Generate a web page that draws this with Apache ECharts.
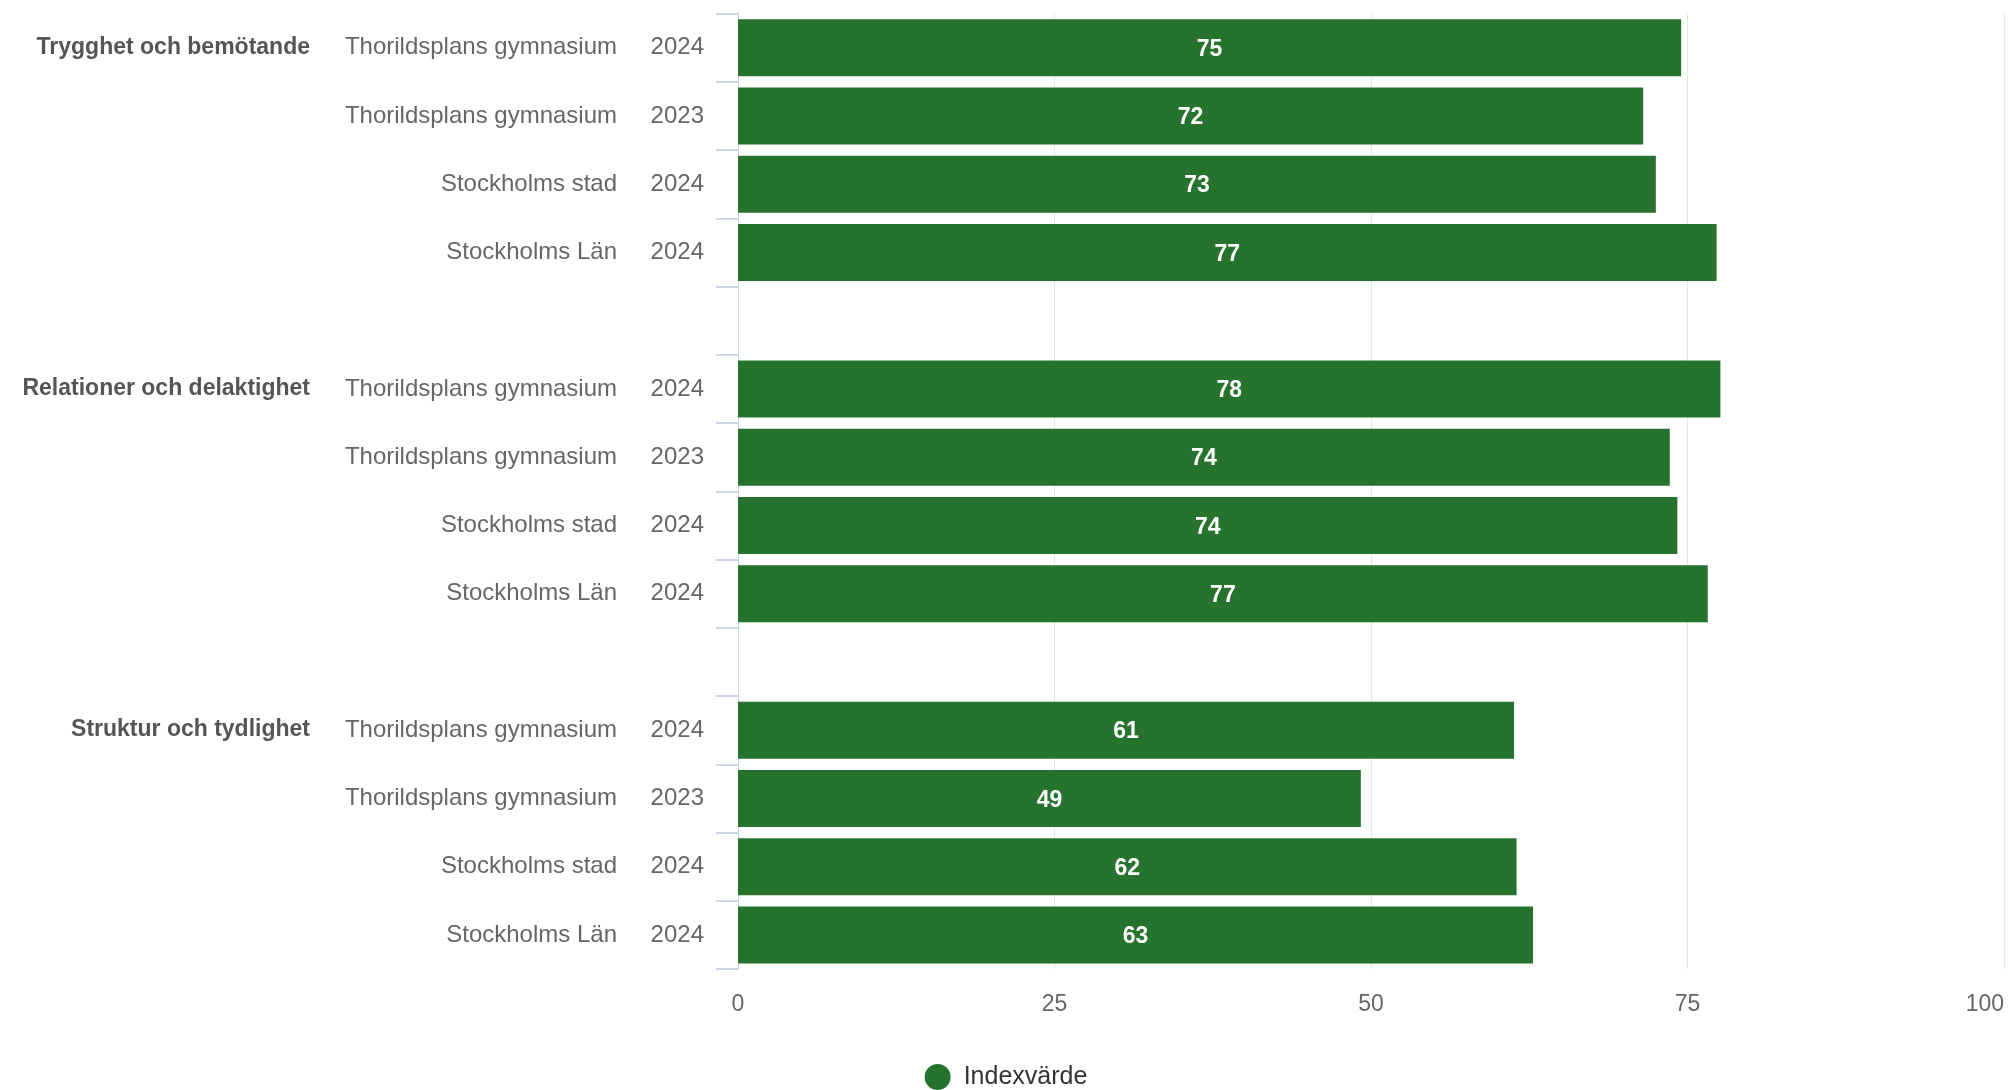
<!DOCTYPE html>
<html>
<head>
<meta charset="utf-8">
<script src="https://cdn.jsdelivr.net/npm/echarts@6/dist/echarts.min.js"></script>
<style>
html,body{margin:0;padding:0;background:#fff;}
#chart{width:2012px;height:1090px;}
</style>
</head>
<body>
<div id="chart"></div>
<script>
// ---- data ----
const groups = ['Trygghet och bemötande', 'Relationer och delaktighet', 'Struktur och tydlighet'];
const units = ['Thorildsplans gymnasium', 'Thorildsplans gymnasium', 'Stockholms stad', 'Stockholms Län'];
const years = ['2024', '2023', '2024', '2024'];
const valuesTrygghet = [74.5, 71.5, 72.5, 77.3];
const valuesRelationer = [77.6, 73.6, 74.2, 76.6];
const valuesStruktur = [61.3, 49.2, 61.5, 62.8];
const xTickLabels = ['0', '25', '50', '75', '100'];
const seriesName = 'Indexvärde';

const groupValues = [valuesTrygghet, valuesRelationer, valuesStruktur];

// rows: bars plus one empty spacer row between groups
const rows = [];
groups.forEach((g, gi) => {
  units.forEach((u, ui) => {
    rows.push({ group: ui === 0 ? g : '', unit: u, year: years[ui], value: groupValues[gi][ui] });
  });
  if (gi < groups.length - 1) rows.push(null);
});
const categories = rows.map((r, k) => 'row' + k);
const barData = rows.map(r => (r ? r.value : '-'));

const FONT = '"Liberation Sans", Arial, Helvetica, sans-serif';

const baseY = {
  type: 'category',
  data: categories,
  inverse: true,
  position: 'left',
  axisLine: { show: false },
  axisTick: { show: false },
  splitLine: { show: false }
};

const chart = echarts.init(document.getElementById('chart'));
chart.setOption({
  animation: false,
  textStyle: { fontFamily: FONT },
  grid: { left: 738, right: 8, top: 13.5, bottom: 121, containLabel: false },
  legend: {
    data: [seriesName],
    left: 'center',
    top: 1059,
    icon: 'circle',
    itemWidth: 26,
    itemHeight: 26,
    textStyle: { fontSize: 25, color: '#333333', fontFamily: FONT, padding: [0, 0, 0, 8] }
  },
  xAxis: {
    type: 'value',
    min: 0,
    max: 100,
    interval: 25,
    axisLine: { show: false },
    axisTick: { show: false },
    splitLine: { show: true, lineStyle: { color: '#e6e6e6', width: 1 } },
    axisLabel: {
      margin: 24,
      color: '#666666',
      fontSize: 23,
      fontFamily: FONT,
      alignMaxLabel: 'right',
      formatter: (v) => xTickLabels[Math.round(v / 25)] ?? String(v)
    }
  },
  yAxis: [
    Object.assign({}, baseY, {
      axisLine: { show: true, lineStyle: { color: '#ccd6eb', width: 1 } },
      axisTick: { show: true, length: 22, interval: 0, lineStyle: { color: '#ccd6eb', width: 2 } },
      axisLabel: {
        interval: 0, margin: 34, color: '#666666', fontSize: 24, fontFamily: FONT,
        formatter: (v, i) => (rows[i] ? rows[i].year : '')
      }
    }),
    Object.assign({}, baseY, {
      axisLabel: {
        interval: 0, margin: 121, color: '#666666', fontSize: 24, fontFamily: FONT,
        formatter: (v, i) => (rows[i] ? rows[i].unit : '')
      }
    }),
    Object.assign({}, baseY, {
      axisLabel: {
        interval: 0, margin: 428, color: '#555555', fontSize: 23, fontWeight: 'bold', fontFamily: FONT,
        formatter: (v, i) => (rows[i] ? rows[i].group : '')
      }
    })
  ],
  series: [{
    name: seriesName,
    type: 'bar',
    yAxisIndex: 0,
    data: barData,
    barWidth: 57,
    itemStyle: { color: '#26732e' },
    label: {
      show: true,
      position: 'inside',
      offset: [0, 2],
      color: '#ffffff',
      fontSize: 23,
      fontWeight: 'bold',
      fontFamily: FONT,
      formatter: (p) => String(Math.round(p.value))
    }
  }]
});
</script>
</body>
</html>
